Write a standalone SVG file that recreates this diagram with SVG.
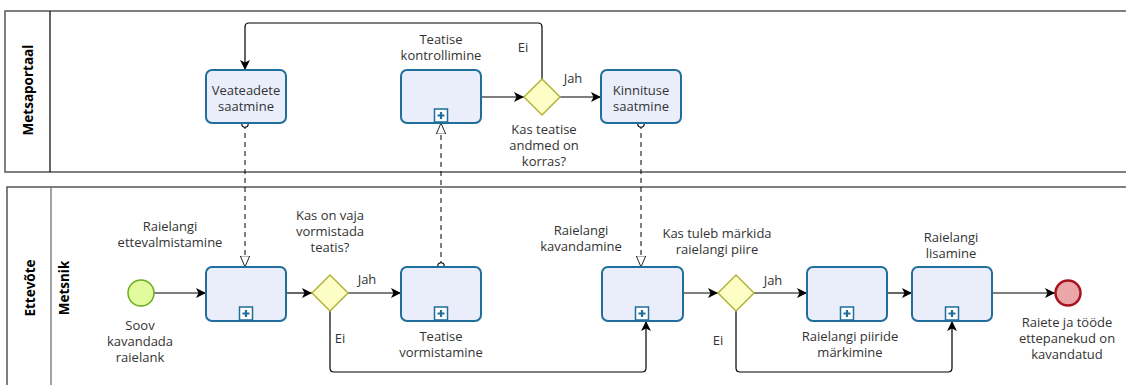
<svg xmlns="http://www.w3.org/2000/svg" width="1126" height="385" viewBox="0 0 1126 385">
<style>
text{font-family:"Open Sans","Noto Sans","Liberation Sans",sans-serif;font-size:13px;fill:#333;text-anchor:middle}
.pl{font-weight:bold;fill:#000;font-size:13.5px}
.task{fill:#EAEEFB;stroke:#1F6E9C;stroke-width:2}
.gw{fill:#FDFDC6;stroke:#B4B43A;stroke-width:1.5}
.flow{fill:none;stroke:#000;stroke-width:1.2}
.msg{fill:none;stroke:#000;stroke-width:1;stroke-dasharray:5,4}
.pool{fill:#fff;stroke:#555;stroke-width:1.5}
.plus{fill:#fff;stroke:#1F6E9C;stroke-width:1.5}
</style>
<defs>
<marker id="arr" markerWidth="10" markerHeight="10" refX="10" refY="5" orient="auto" markerUnits="userSpaceOnUse" viewBox="0 0 10 10">
<path d="M0,0 L10,5 L0,10 L2.5,5 Z" fill="#000"/>
</marker>
<marker id="open" markerWidth="12" markerHeight="14" refX="13" refY="6" orient="auto" markerUnits="userSpaceOnUse" viewBox="0 0 14 12">
<path d="M0,0.5 L13,6 L0,11.5 Z" fill="#fff" stroke="#000" stroke-width="1"/>
</marker>
<marker id="circ" markerWidth="8" markerHeight="8" refX="3.5" refY="3.5" orient="auto" markerUnits="userSpaceOnUse" viewBox="0 0 7 7">
<circle cx="3.5" cy="3.5" r="2.8" fill="#fff" stroke="#000" stroke-width="1"/>
</marker>
<g id="sub">
<rect x="-6.5" y="0" width="13" height="13" class="plus"/>
<path d="M0,3 V10 M-3.5,6.5 H3.5" stroke="#1F6E9C" stroke-width="2.2"/>
</g>
</defs>

<g id="pool-metsaportaal">
<rect x="5" y="11" width="1130" height="161" class="pool"/>
<line x1="50" y1="11" x2="50" y2="172" stroke="#000" stroke-width="1.2"/>
<text class="pl" transform="translate(33,90) rotate(-90)">Metsaportaal</text>
</g>
<g id="pool-ettevote">
<rect x="7" y="187" width="1130" height="210" class="pool"/>
<line x1="51" y1="187" x2="51" y2="390" stroke="#666" stroke-width="1.2"/>
<text class="pl" transform="translate(35,288) rotate(-90)">Ettevõte</text>
<text class="pl" transform="translate(69,288) rotate(-90)">Metsnik</text>
</g>

<g id="connectors">
<path class="flow" d="M542,79 V27 Q542,23 538,23 H249 Q245,23 245,27 V70" marker-end="url(#arr)"/>
<path class="flow" d="M481,97 H524" marker-end="url(#arr)"/>
<path class="flow" d="M560,97 H601" marker-end="url(#arr)"/>
<path class="flow" d="M154,293 H206" marker-end="url(#arr)"/>
<path class="flow" d="M286,293 H312" marker-end="url(#arr)"/>
<path class="flow" d="M348,293 H401" marker-end="url(#arr)"/>
<path class="flow" d="M330,311 V368 Q330,372 334,372 H642 Q646,372 646,368 V321" marker-end="url(#arr)"/>
<path class="flow" d="M683,293 H718" marker-end="url(#arr)"/>
<path class="flow" d="M754,293 H807" marker-end="url(#arr)"/>
<path class="flow" d="M736,311 V368 Q736,372 740,372 H948 Q952,372 952,368 V321" marker-end="url(#arr)"/>
<path class="flow" d="M887,293 H912" marker-end="url(#arr)"/>
<path class="flow" d="M992,293 H1055" marker-end="url(#arr)"/>
<path class="msg" d="M245,124 V267" marker-start="url(#circ)" marker-end="url(#open)"/>
<path class="msg" d="M441,266 V123" marker-start="url(#circ)" marker-end="url(#open)"/>
<path class="msg" d="M641,124 V267" marker-start="url(#circ)" marker-end="url(#open)"/>
<text x="523" y="52">Ei</text>
<text x="573" y="83">Jah</text>
<text x="367" y="284">Jah</text>
<text x="340" y="343">Ei</text>
<text x="773" y="285">Jah</text>
<text x="718" y="345">Ei</text>
</g>

<g id="veateadete">
<rect x="206" y="70" width="80" height="53" rx="6" class="task"/>
<text x="246" y="95">Veateadete</text>
<text x="246" y="111">saatmine</text>
</g>
<g id="teatise-kontrollimine">
<rect x="401" y="70" width="80" height="53" rx="6" class="task"/>
<use href="#sub" x="441" y="109"/>
<text x="441" y="44">Teatise</text>
<text x="441" y="60">kontrollimine</text>
</g>
<g id="gw-korras">
<path d="M542,79 L560,97 L542,115 L524,97 Z" class="gw"/>
<text x="544" y="134">Kas teatise</text>
<text x="544" y="150">andmed on</text>
<text x="544" y="166">korras?</text>
</g>
<g id="kinnituse">
<rect x="601" y="70" width="80" height="53" rx="6" class="task"/>
<text x="641" y="95">Kinnituse</text>
<text x="641" y="111">saatmine</text>
</g>

<g id="start">
<circle cx="141" cy="293" r="13" fill="#E2FB9C" stroke="#6AAE1E" stroke-width="1.5"/>
<text x="140" y="330">Soov</text>
<text x="140" y="346">kavandada</text>
<text x="140" y="362">raielank</text>
</g>
<g id="ettevalmistamine">
<rect x="206" y="267" width="80" height="54" rx="6" class="task"/>
<use href="#sub" x="246" y="307"/>
<text x="170" y="231">Raielangi</text>
<text x="170" y="247">ettevalmistamine</text>
</g>
<g id="gw-vormistada">
<path d="M330,275 L348,293 L330,311 L312,293 Z" class="gw"/>
<text x="330" y="220">Kas on vaja</text>
<text x="330" y="236">vormistada</text>
<text x="330" y="252">teatis?</text>
</g>
<g id="teatise-vormistamine">
<rect x="401" y="267" width="80" height="54" rx="6" class="task"/>
<use href="#sub" x="441" y="307"/>
<text x="441" y="341">Teatise</text>
<text x="441" y="357">vormistamine</text>
</g>
<g id="kavandamine">
<rect x="602" y="267" width="81" height="54" rx="6" class="task"/>
<use href="#sub" x="642" y="307"/>
<text x="581" y="235">Raielangi</text>
<text x="581" y="251">kavandamine</text>
</g>
<g id="gw-piire">
<path d="M736,275 L754,293 L736,311 L718,293 Z" class="gw"/>
<text x="717" y="238">Kas tuleb märkida</text>
<text x="717" y="254">raielangi piire</text>
</g>
<g id="piiride">
<rect x="807" y="267" width="80" height="54" rx="6" class="task"/>
<use href="#sub" x="847" y="307"/>
<text x="850" y="341">Raielangi piiride</text>
<text x="850" y="357">märkimine</text>
</g>
<g id="lisamine">
<rect x="912" y="267" width="80" height="54" rx="6" class="task"/>
<use href="#sub" x="952" y="307"/>
<text x="951" y="242">Raielangi</text>
<text x="951" y="258">lisamine</text>
</g>
<g id="end">
<circle cx="1068" cy="293" r="12.5" fill="#EBA6AA" stroke="#A8141E" stroke-width="2.5"/>
<text x="1067" y="327">Raiete ja tööde</text>
<text x="1067" y="343">ettepanekud on</text>
<text x="1067" y="359">kavandatud</text>
</g>
</svg>
